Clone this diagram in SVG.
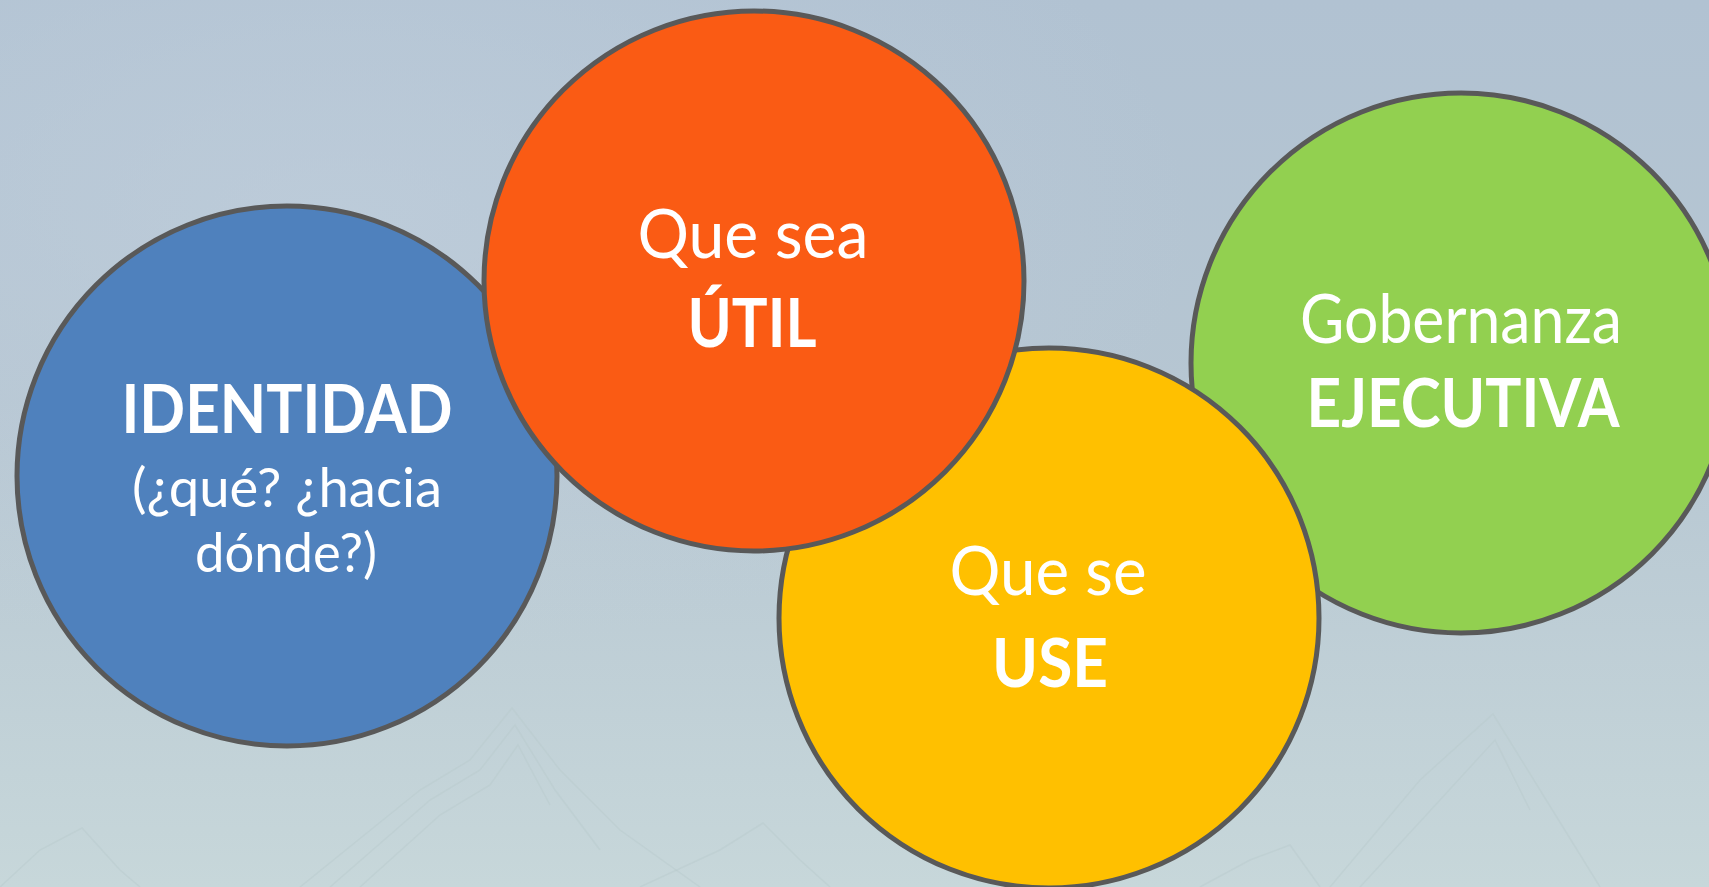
<svg xmlns="http://www.w3.org/2000/svg" width="1709" height="887" viewBox="0 0 1709 887">
  <defs>
    <linearGradient id="bg" x1="0" y1="0" x2="0" y2="1">
      <stop offset="0" stop-color="#b1c2d2"/>
      <stop offset="0.45" stop-color="#b6c6d2"/>
      <stop offset="1" stop-color="#c7d7da"/>
    </linearGradient>
    <radialGradient id="haze" cx="0.2" cy="0.25" r="0.5">
      <stop offset="0" stop-color="#c2d0de" stop-opacity="0.6"/>
      <stop offset="1" stop-color="#c2d0de" stop-opacity="0"/>
    </radialGradient>
  </defs>
  <style>
    .node { stroke: #595959; stroke-width: 5; }
    .t { fill: #ffffff; font-family: Lato, "Open Sans", "Noto Sans", sans-serif; text-anchor: middle; }
    .r { font-weight: 400; font-size: 67px; }
    .b { font-weight: 700; font-size: 66px; }
    .s { font-weight: 400; font-size: 54px; }
    .mtn { fill: none; stroke: #b9c9cd; stroke-width: 1.5; opacity: 0.45; }
  </style>
  <rect x="0" y="0" width="1709" height="887" fill="url(#bg)"/>
  <rect x="0" y="0" width="1709" height="887" fill="url(#haze)"/>
  <g id="background-mountains">
    <path class="mtn" d="M300 887 L420 790 L470 760 L512 708 L560 770 L620 830 L700 887"/>
    <path class="mtn" d="M330 887 L430 800 L480 770 L515 725 L555 790 L600 850"/>
    <path class="mtn" d="M360 887 L440 815 L490 785 L518 745 L550 805"/>
    <path class="mtn" d="M0 887 L40 850 L82 828 L120 870 L140 887"/>
    <path class="mtn" d="M640 887 L720 850 L763 823 L800 860 L830 887"/>
    <path class="mtn" d="M1330 887 L1420 780 L1493 714 L1540 790 L1600 887"/>
    <path class="mtn" d="M1360 887 L1440 800 L1495 740 L1530 810"/>
    <path class="mtn" d="M1200 887 L1250 860 L1290 845 L1320 887"/>
  </g>
  <g id="node-identidad">
    <circle class="node" cx="287" cy="476" r="270" fill="#4f81bd"/>
    <text class="t b" x="287" y="433" textLength="331" lengthAdjust="spacingAndGlyphs">IDENTIDAD</text>
    <text class="t s" x="287" y="507" textLength="310" lengthAdjust="spacingAndGlyphs">(¿qué? ¿hacia</text>
    <text class="t s" x="286" y="572" textLength="182" lengthAdjust="spacingAndGlyphs">dónde?)</text>
  </g>
  <g id="node-gobernanza">
    <circle class="node" cx="1461" cy="363" r="270" fill="#92d050"/>
    <text class="t r" x="1461" y="343" textLength="322" lengthAdjust="spacingAndGlyphs">Gobernanza</text>
    <text class="t b" x="1463" y="427" textLength="313" lengthAdjust="spacingAndGlyphs">EJECUTIVA</text>
  </g>
  <g id="node-use">
    <circle class="node" cx="1049" cy="618" r="270" fill="#ffc000"/>
    <text class="t r" x="1048" y="595" textLength="197" lengthAdjust="spacingAndGlyphs">Que se</text>
    <text class="t b" x="1050" y="687" textLength="116" lengthAdjust="spacingAndGlyphs">USE</text>
  </g>
  <g id="node-util">
    <circle class="node" cx="754" cy="281" r="270" fill="#fa5b14"/>
    <text class="t r" x="753" y="258" textLength="231" lengthAdjust="spacingAndGlyphs">Que sea</text>
    <text class="t b" x="752" y="347" textLength="129" lengthAdjust="spacingAndGlyphs">ÚTIL</text>
  </g>
  <g id="connectors"></g>
</svg>
